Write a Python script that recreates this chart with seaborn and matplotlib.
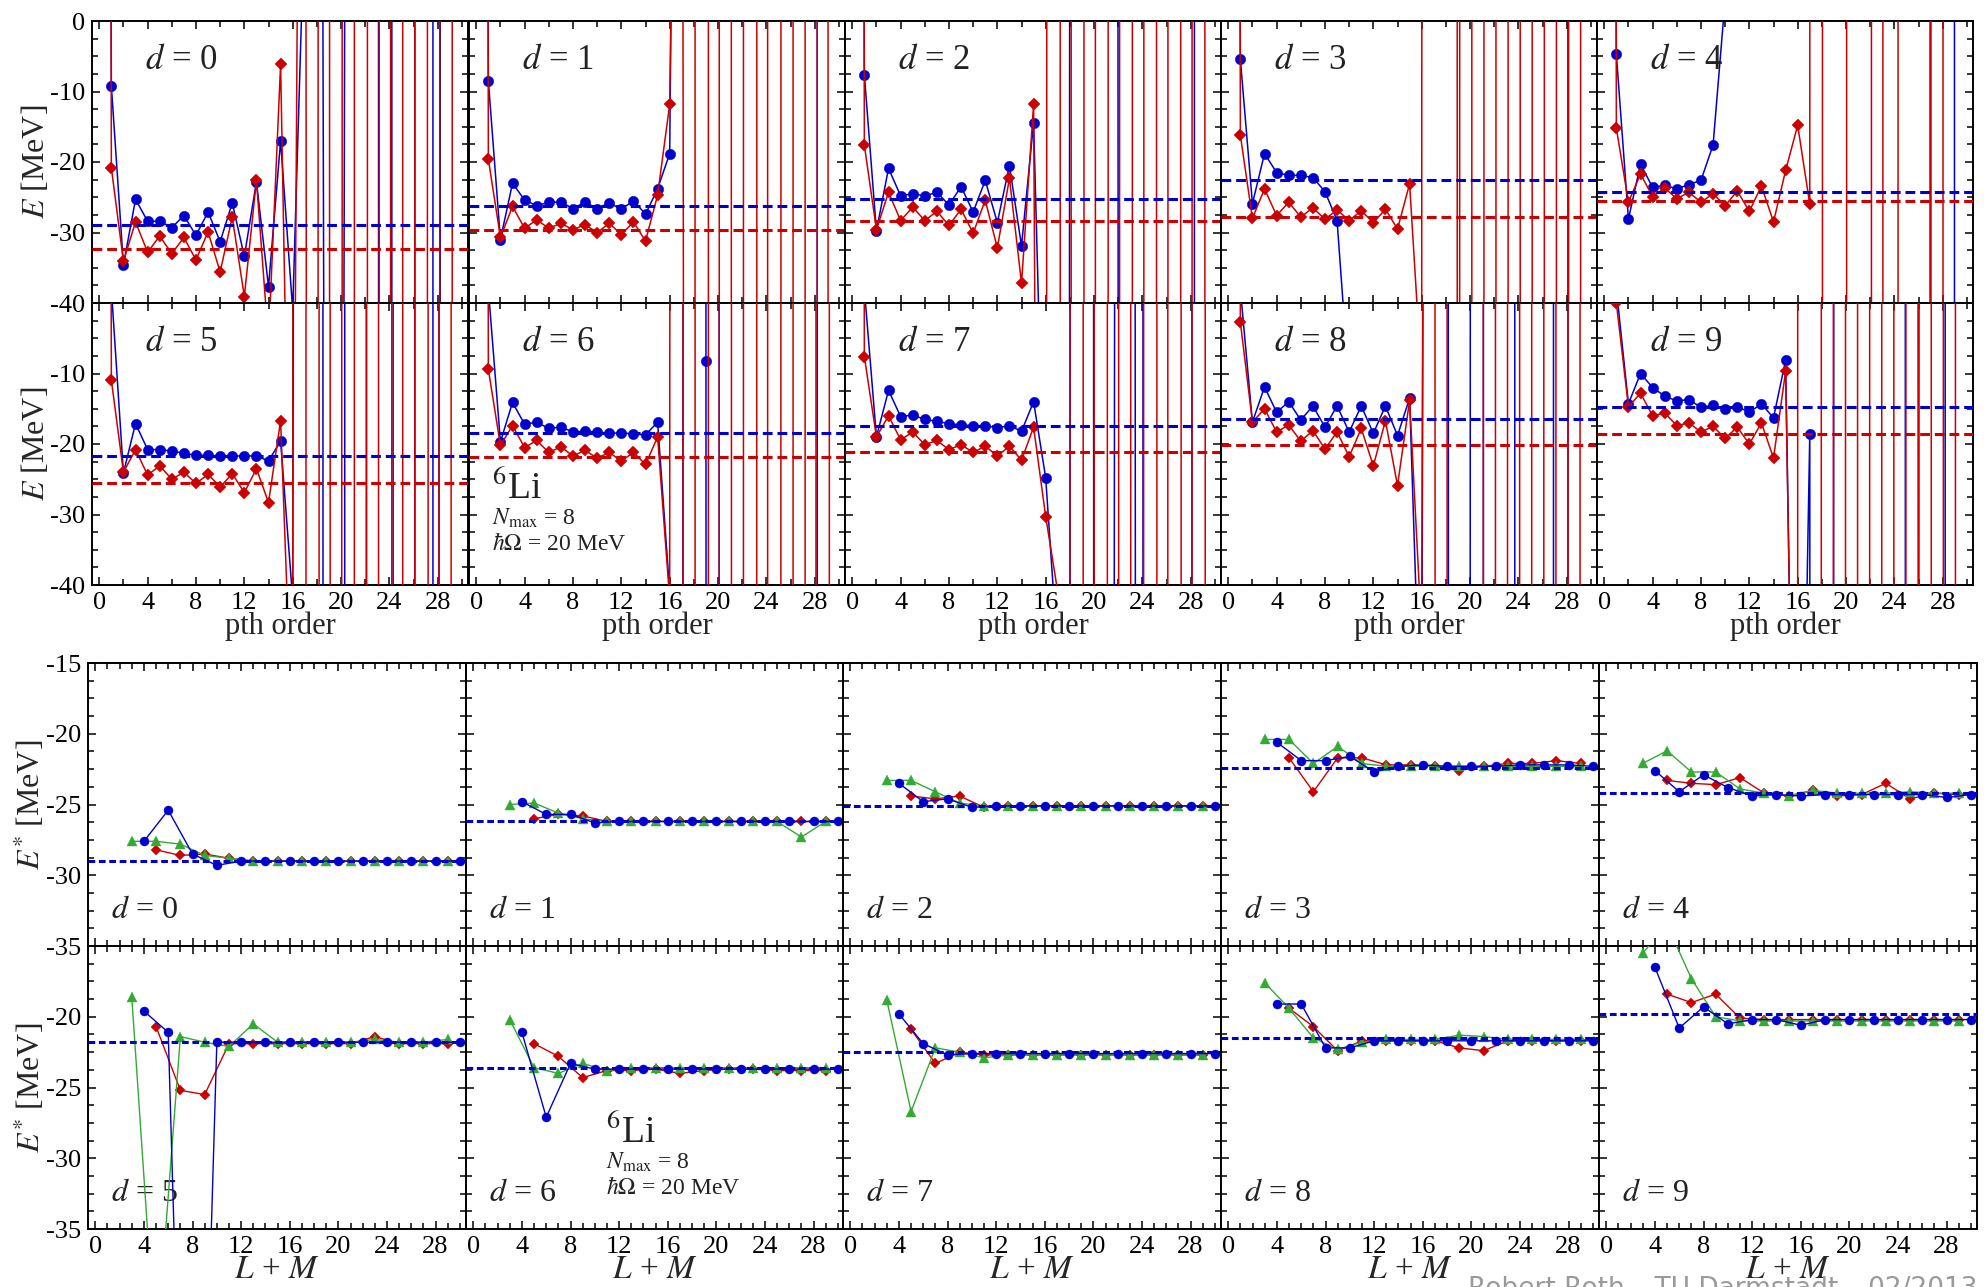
import numpy as np
import matplotlib
matplotlib.use("Agg")
import matplotlib.pyplot as plt
import seaborn as sns
from matplotlib.ticker import MultipleLocator

sns.set_theme(style="ticks")
plt.rcParams.update({
    "font.family": ["Liberation Serif", "DejaVu Serif"],
    "mathtext.fontset": "stix",
    "axes.unicode_minus": False,
    "path.simplify": False,
    "axes.edgecolor": "black",
    "axes.linewidth": 1.4,
})

BLUE = "#0000cc"
RED = "#cc0000"
GREEN = "#33aa33"

# ---------------- top block: energy vs. perturbation order -----------------
pth_order = list(range(31))  # 0 .. 30

pth_blue_d0 = [1e3, -9.2, -34.6, -25.3, -28.4, -28.4, -29.3, -27.6, -30.4, -27.1, -31.3, -25.8, -33.4, -22.8, -37.7, -17.0,
               -41, 16, 300, -300, -200, 470, 3000, 2000, -1.8e4, 7.2e4, 5e5, -4.5e6, 3e6, -1.2e7, -5e7]
pth_red_d0 = [1e3, -20.8, -34.1, -28.5, -32.8, -30.5, -33.0, -30.7, -33.9, -29.9, -35.6, -27.8, -39.1, -22.6, -45.5, -6.1,
              -100, 170, -1500, 1.3e4, -2.5e5, 2.5e6, -2.2e7, 1e8, -5.5e8, 5e9, -4.5e10, 4e11, -2.4e12, 1.2e13, -5e13]

pth_blue_d1 = [1e3, -8.5, -31.0, -23.0, -25.4, -26.2, -25.7, -25.7, -26.6, -25.7, -26.6, -25.8, -26.7, -25.5, -27.4, -23.8, -18.8,
               170, 1500, 9000, 4e4, 2e5, 8e5, 3e6, 1e7, 4e7, 1e8, 3e8, 1e9, -4e9, -1e10]
pth_red_d1 = [1e3, -19.6, -30.7, -26.3, -29.4, -28.2, -29.4, -28.7, -29.6, -28.9, -30.0, -28.7, -30.3, -28.5, -31.2, -24.7, -11.8,
              110, -1000, 9000, -3.6e4, 3.2e5, -2.9e6, 2.6e7, -1e8, 9e8, -3.6e9, 1.4e10, -5.6e10, 2.2e11, -2e12]

pth_blue_d2 = [1e3, -7.6, -29.8, -20.9, -24.8, -24.5, -24.8, -24.3, -26.1, -23.5, -27.1, -22.6, -28.6, -20.5, -31.9, -14.4,
               -78, -3000, 60, 800, 1500, 3000, -60, -900, -5000, -2e4, -5e4, -1e5, -3e5, 7e5, 2e6]
pth_red_d2 = [1e3, -17.6, -29.6, -24.3, -28.3, -26.4, -28.3, -27.0, -29.0, -26.7, -30.1, -25.4, -32.2, -22.3, -37.2, -11.8,
              -300, 3000, -1.2e4, 1e5, -5e5, 4e6, -2e7, 1.6e8, -8e8, 6e9, -3e10, 2.4e11, -1.2e12, 1e13, -5e13]

pth_blue_d3 = [1e3, -5.4, -25.9, -18.8, -21.5, -21.9, -21.9, -22.2, -24.2, -28.3,
               -52, -300, -1000, -3000, -8000, -2e4, -5e4, -1e5, -2e5, -4e5, -8e5, -1.5e6, -3e6, -6e6, -1e7, -2e7,
               -4e7, -8e7, -1.5e8, 1.4e9, 5e9]
pth_red_d3 = [1e3, -16.2, -28.0, -23.8, -27.6, -25.7, -27.8, -26.5, -28.1, -26.8, -28.3, -26.9, -28.6, -26.7, -29.5, -23.1,
              -51, 5000, 3e4, -2e3, 1.2e4, -7e4, 4e5, -2.4e6, 1.4e7, -8e7, 5e8, -3e9, 1.8e10, -1e11, 6e11]

pth_blue_d4 = [1e3, -4.7, -28.1, -20.3, -23.6, -23.3, -23.8, -23.2, -22.6, -17.6, 3.1,
               50, 200, 800, 3000, 1e4, 3e4, 1e5, 3e5, 1e6, 3e6, 1e7, 3e7, 1e8, 3e8, 1e9, 3e9, -1e8, -3e9, 1e8, 1e9]
pth_red_d4 = [1e3, -15.2, -25.7, -21.7, -24.9, -23.7, -25.2, -24.3, -25.7, -24.5, -26.2, -24.1, -27.0, -23.4, -28.5, -21.2,
              -14.8, -26.0, 5000, -1e5, -2e5, 4e6, 5e6, -4.5e7, 9e8, -2.1e9, -3e9, 1e8, -5e9, 2.5e11, 5e11]

pth_blue_d5 = [1e3, 2, -24.1, -17.1, -20.8, -20.8, -21.0, -21.3, -21.6, -21.6, -21.7, -21.7, -21.7, -21.7, -22.4, -19.6, -42,
               800, 3000, -3000, -1e4, 2.3e4, 5e4, -4.5e5, -1e6, 2.3e6, 5e6, -4.5e7, 3e7, -2.7e8, -1e9]
pth_red_d5 = [1e3, -10.9, -24.0, -20.8, -24.4, -23.1, -25.0, -24.0, -25.6, -24.3, -26.1, -24.2, -26.9, -23.5, -28.3, -16.7, -63,
              5000, -4.5e4, 2e5, -1.8e6, 3e7, -2.7e8, 2.4e9, -2.2e10, 9e10, -8e11, 7e12, -2.8e13, 2.5e14, -2.2e15]

pth_blue_d6 = [1e3, 2, -19.7, -14.1, -17.2, -16.9, -17.8, -17.6, -18.3, -18.2, -18.3, -18.5, -18.4, -18.6, -18.7, -16.9,
               -41, -500, 4500, -8.2, -5000, 5e4, 1e5, 2e5, 4e5, 8e5, 1.5e6, 3e6, 5e6, -2e7, -5e7]
pth_red_d6 = [1e3, -9.4, -20.2, -17.4, -20.5, -19.5, -21.2, -20.4, -21.7, -20.9, -22.0, -21.2, -22.4, -21.2, -22.9, -19.0,
              -42, 4000, -3.6e4, 3.2e5, -1.3e6, 1.2e7, -1e8, 9e8, -3.6e9, 3.2e10, -1.3e11, 5e11, -2e12, 1.8e13, -7e13]

pth_blue_d7 = [1e3, 2, -19.0, -12.4, -16.1, -15.9, -16.5, -16.8, -17.1, -17.3, -17.4, -17.4, -17.7, -17.4, -18.2, -14.0, -24.8,
               -50, -100, 5000, -200, -1000, 430, 1000, -1500, 3e4, 5e4, 1e5, 3e5, -2.7e6, -5e6]
pth_red_d7 = [1e3, -7.6, -19.0, -16.0, -19.4, -18.3, -20.1, -19.5, -20.8, -20.1, -21.2, -20.3, -21.7, -20.3, -22.3, -17.6, -30.3,
              -41, -50, 5000, -4.5e4, 4e6, -3.6e7, 1e9, -3e10, 2.7e11, -1.1e12, 1e13, -4e13, 3.6e14, -1.5e15]

pth_blue_d8 = [1e3, 2, -16.9, -11.9, -15.5, -14.0, -16.6, -14.6, -17.6, -14.6, -18.3, -14.6, -18.5, -14.6, -18.8, -13.5,
               -66, 600, 1000, -4000, -100, 5000, -4.5e4, -1e5, 4.3e4, 1e5, 3e6, -3.3e5, -3e5, 2.7e6, 5e6]
pth_red_d8 = [1e3, -2.7, -16.9, -15.0, -18.3, -17.3, -19.6, -18.1, -20.7, -18.3, -21.8, -17.8, -23.1, -16.7, -25.9, -13.8,
              -47, 500, -4500, 4e4, 2e5, 5e5, -4.5e6, 4e7, -3.6e8, 3.2e9, -2.9e10, 2.6e11, -2.3e12, 2e13, -1.8e14]

pth_blue_d9 = [1e3, 2, -14.3, -10.0, -12.0, -13.2, -13.9, -13.7, -14.8, -14.5, -15.1, -14.7, -15.5, -14.3, -16.3, -8.1,
               -114, -18.6, -5000, 100, 500, 1500, 3000, 5000, 9000, -1000, -5000, -1e4, -2e4, 8e4, 2e5]
pth_red_d9 = [1e3, 0.0, -14.7, -12.8, -16.0, -15.6, -17.4, -17.0, -18.3, -17.5, -19.2, -17.6, -20.0, -17.0, -22.0, -9.7,
              -110, 1e14, -5e12, 2.5e11, -1.2e10, 6e8, -3e7, 1.5e6, -7.5e4, 4000, -200, 5000, -1e5, 2e6, -4e7]

conv_blue_pth = [-29.0, -26.2, -25.2, -22.5, -24.3, -21.7, -18.5, -17.5, -16.5, -14.8]
conv_red_pth = [-32.4, -29.6, -28.3, -27.8, -25.6, -25.5, -21.9, -21.2, -20.2, -18.6]

# ---------------- bottom block: E* vs. L+M -----------------
lm_blue_x = [4, 6, 8, 10, 12, 14, 16, 18, 20, 22, 24, 26, 28, 30]
lm_red_x = [5, 7, 9, 11, 13, 15, 17, 19, 21, 23, 25, 27, 29]
lm_green_x = [3, 5, 7, 9, 11, 13, 15, 17, 19, 21, 23, 25, 27, 29]

lm_blue_d0 = [-27.6, -25.4, -28.5, -29.3, -29.0, -29.0, -29.0, -29.0, -29.0, -29.0, -29.0, -29.0, -29.0, -29.0]
lm_red_d0 = [-28.2, -28.6, -28.5, -28.8, -29.0, -29.0, -29.0, -29.0, -29.0, -29.0, -29.0, -29.0, -29.0]
lm_green_d0 = [-27.6, -27.6, -27.8, -28.6, -28.8, -29.0, -29.0, -29.0, -29.0, -29.0, -29.0, -29.0, -29.0, -29.0]

lm_blue_d1 = [-24.8, -25.7, -25.7, -26.3, -26.2, -26.2, -26.2, -26.2, -26.2, -26.2, -26.2, -26.2, -26.2, -26.2]
lm_red_d1 = [-26.0, -25.7, -25.8, -26.2, -26.2, -26.2, -26.2, -26.2, -26.2, -26.2, -26.2, -26.2, -26.2]
lm_green_d1 = [-25.0, -24.9, -25.6, -26.0, -26.2, -26.2, -26.2, -26.2, -26.2, -26.2, -26.2, -26.2, -27.3, -26.2]

lm_blue_d2 = [-23.5, -24.8, -24.6, -25.2, -25.1, -25.1, -25.1, -25.1, -25.1, -25.1, -25.1, -25.1, -25.1, -25.1]
lm_red_d2 = [-24.4, -24.6, -24.4, -25.2, -25.1, -25.1, -25.1, -25.1, -25.1, -25.1, -25.1, -25.1, -25.1]
lm_green_d2 = [-23.3, -23.3, -24.1, -24.9, -25.1, -25.1, -25.1, -25.1, -25.1, -25.1, -25.1, -25.1, -25.1, -25.1]

lm_blue_d3 = [-20.6, -21.9, -21.9, -21.6, -22.7, -22.3, -22.2, -22.3, -22.3, -22.3, -22.2, -22.2, -22.2, -22.3]
lm_red_d3 = [-21.7, -24.1, -21.7, -21.7, -22.2, -22.2, -22.3, -22.6, -22.3, -22.1, -22.1, -21.9, -22.1]
lm_green_d3 = [-20.4, -20.4, -22.1, -20.9, -22.1, -22.3, -22.3, -22.3, -22.3, -22.3, -22.3, -22.3, -22.3, -22.3]

lm_blue_d4 = [-22.6, -24.1, -22.9, -23.8, -24.4, -24.3, -24.4, -24.3, -24.3, -24.3, -24.3, -24.3, -24.5, -24.3]
lm_red_d4 = [-23.3, -23.5, -23.6, -23.1, -24.2, -24.4, -24.0, -24.4, -24.3, -23.5, -24.6, -24.2, -24.3]
lm_green_d4 = [-22.1, -21.2, -22.7, -22.7, -23.9, -24.2, -24.4, -24.0, -24.2, -24.2, -24.2, -24.1, -24.2, -24.2]

lm_blue_d5 = [-19.6, -21.1, -80.0, -21.8, -21.8, -21.8, -21.8, -21.8, -21.8, -21.8, -21.8, -21.8, -21.8, -21.8]
lm_red_d5 = [-20.7, -25.2, -25.5, -21.9, -21.9, -21.9, -21.9, -21.9, -21.9, -21.4, -21.9, -21.9, -21.9]
lm_green_d5 = [-18.6, -44.0, -21.4, -21.8, -22.1, -20.5, -21.8, -21.8, -21.8, -21.8, -21.6, -21.8, -21.8, -21.6]

lm_blue_d6 = [-21.1, -27.1, -23.3, -23.7, -23.7, -23.7, -23.7, -23.7, -23.7, -23.7, -23.7, -23.7, -23.7, -23.7]
lm_red_d6 = [-21.9, -22.8, -24.3, -23.8, -23.8, -23.7, -24.0, -23.8, -23.7, -23.7, -23.8, -23.8, -23.8]
lm_green_d6 = [-20.2, -23.6, -24.0, -23.3, -23.8, -23.6, -23.6, -23.6, -23.6, -23.6, -23.6, -23.6, -23.6, -23.6]

lm_blue_d7 = [-19.8, -21.9, -22.7, -22.6, -22.6, -22.6, -22.6, -22.6, -22.6, -22.6, -22.6, -22.6, -22.6, -22.6]
lm_red_d7 = [-20.9, -23.3, -22.5, -22.7, -22.7, -22.7, -22.7, -22.7, -22.7, -22.7, -22.7, -22.7, -22.7]
lm_green_d7 = [-18.8, -26.7, -22.2, -22.5, -22.9, -22.7, -22.7, -22.7, -22.7, -22.7, -22.7, -22.7, -22.7, -22.7]

lm_blue_d8 = [-19.1, -19.1, -22.2, -22.2, -21.7, -21.7, -21.7, -21.7, -21.7, -21.7, -21.7, -21.7, -21.7, -21.7]
lm_red_d8 = [-19.4, -20.7, -22.4, -21.7, -21.7, -21.7, -21.7, -22.2, -22.4, -21.7, -21.7, -21.7, -21.7]
lm_green_d8 = [-17.6, -19.4, -21.5, -22.3, -21.8, -21.6, -21.6, -21.6, -21.3, -21.4, -21.6, -21.6, -21.6, -21.6]

lm_blue_d9 = [-16.5, -20.8, -19.3, -20.5, -20.2, -20.2, -20.6, -20.2, -20.2, -20.2, -20.2, -20.2, -20.2, -20.2]
lm_red_d9 = [-18.4, -19.0, -18.4, -20.1, -20.2, -20.2, -20.2, -20.2, -20.2, -20.2, -20.2, -20.2, -20.2]
lm_green_d9 = [-15.5, -13.5, -17.3, -20.0, -20.3, -20.3, -20.3, -20.3, -20.3, -20.3, -20.3, -20.3, -20.3, -20.3]

conv_lm = [-28.96, -26.2, -25.1, -22.4, -24.2, -21.8, -23.6, -22.5, -21.5, -19.8]

x_tick_vals = [0, 4, 8, 12, 16, 20, 24, 28]

pth_blue = [pth_blue_d0, pth_blue_d1, pth_blue_d2, pth_blue_d3, pth_blue_d4,
            pth_blue_d5, pth_blue_d6, pth_blue_d7, pth_blue_d8, pth_blue_d9]
pth_red = [pth_red_d0, pth_red_d1, pth_red_d2, pth_red_d3, pth_red_d4,
           pth_red_d5, pth_red_d6, pth_red_d7, pth_red_d8, pth_red_d9]
lm_blue = [lm_blue_d0, lm_blue_d1, lm_blue_d2, lm_blue_d3, lm_blue_d4,
           lm_blue_d5, lm_blue_d6, lm_blue_d7, lm_blue_d8, lm_blue_d9]
lm_red = [lm_red_d0, lm_red_d1, lm_red_d2, lm_red_d3, lm_red_d4,
          lm_red_d5, lm_red_d6, lm_red_d7, lm_red_d8, lm_red_d9]
lm_green = [lm_green_d0, lm_green_d1, lm_green_d2, lm_green_d3, lm_green_d4,
            lm_green_d5, lm_green_d6, lm_green_d7, lm_green_d8, lm_green_d9]

for s in pth_blue + pth_red:
    assert len(s) == len(pth_order), len(s)

# ---------------- layout -----------------
W, H = 1984, 1287
fig = plt.figure(figsize=(W / 100, H / 100), dpi=100)


def axes_at(left, top, w, h):
    return fig.add_axes([left / W, 1 - (top + h) / H, w / W, h / H])


top_lefts = [92, 469, 845, 1221, 1597]
top_w = 376
top_rows = [(21, 282), (303, 282)]
bot_lefts = [88, 466, 843, 1221, 1599]
bot_w = 378
bot_rows = [(663, 283), (946, 283)]


def style(ax, show_left, show_bottom):
    ax.set_facecolor("white")
    for sp in ax.spines.values():
        sp.set_color("black")
        sp.set_linewidth(1.4)
    ax.tick_params(which="both", direction="in", top=True, right=True,
                   left=True, bottom=True, colors="black", width=1.1,
                   labelsize=19, pad=5,
                   labelleft=show_left, labelbottom=show_bottom)
    ax.tick_params(which="major", length=6)
    ax.tick_params(which="minor", length=4)
    ax.set_xlabel("")
    ax.set_ylabel("")
    ax.grid(False)


line_kw = dict(legend=False, estimator=None, sort=False)

for d in range(10):
    r, c = divmod(d, 5)
    ax = axes_at(top_lefts[c], top_rows[r][0], top_w, top_rows[r][1])
    sns.lineplot(x=pth_order, y=pth_blue[d], ax=ax, color=BLUE, lw=1.1,
                 marker="o", markersize=7.5, markeredgecolor=BLUE,
                 markeredgewidth=0.3, zorder=3, **line_kw)
    sns.lineplot(x=pth_order, y=pth_red[d], ax=ax, color=RED, lw=1.1,
                 marker="D", markersize=6.5, markeredgecolor=RED,
                 markeredgewidth=0.3, zorder=4, **line_kw)
    ax.axhline(conv_blue_pth[d], color=BLUE, lw=2.2, dashes=(3.2, 1.6), zorder=5)
    ax.axhline(conv_red_pth[d], color=RED, lw=2.2, dashes=(3.2, 1.6), zorder=5)
    ax.set_xlim(-0.6, 30.5)
    ax.set_ylim(-40, 0)
    ax.xaxis.set_major_locator(MultipleLocator(4))
    ax.xaxis.set_minor_locator(MultipleLocator(2))
    ax.set_yticks([-40, -30, -20, -10, 0])
    ax.yaxis.set_minor_locator(MultipleLocator(2.5))
    if r == 0:
        ax.set_yticklabels(["-40", "-30", "-20", "-10", "0"])
    else:
        ax.set_yticklabels(["-40", "-30", "-20", "-10", ""])
    ax.set_xticks(x_tick_vals)
    ax.set_xticklabels([str(v) for v in x_tick_vals])
    style(ax, c == 0, r == 1)
    ax.text(0.14, 0.86, r"$d$ = %d" % d, transform=ax.transAxes,
            fontsize=25, va="center", ha="left", color="#222222")
    if d == 6:
        ax.text(0.06, 0.34, r"$^{6}$Li", transform=ax.transAxes, fontsize=27,
                va="center", ha="left", color="#222222")
        ax.text(0.06, 0.235, r"$N_{\mathrm{max}}$ = 8", transform=ax.transAxes,
                fontsize=17, va="center", ha="left", color="#222222")
        ax.text(0.06, 0.145, r"$\hbar\Omega$ = 20 MeV", transform=ax.transAxes,
                fontsize=17, va="center", ha="left", color="#222222")
    if r == 1:
        ax.text(0.5, -0.145, "pth order", transform=ax.transAxes, fontsize=22,
                ha="center", va="center")

for d in range(10):
    r, c = divmod(d, 5)
    ax = axes_at(bot_lefts[c], bot_rows[r][0], bot_w, bot_rows[r][1])
    sns.lineplot(x=lm_red_x, y=lm_red[d], ax=ax, color=RED, lw=1.0,
                 marker="D", markersize=5.5, markeredgecolor=RED,
                 markeredgewidth=0.3, zorder=3, **line_kw)
    sns.lineplot(x=lm_green_x, y=lm_green[d], ax=ax, color=GREEN, lw=1.0,
                 marker="^", markersize=7, markeredgecolor=GREEN,
                 markeredgewidth=0.3, zorder=4, **line_kw)
    sns.lineplot(x=lm_blue_x, y=lm_blue[d], ax=ax, color=BLUE, lw=1.0,
                 marker="o", markersize=6.5, markeredgecolor=BLUE,
                 markeredgewidth=0.3, zorder=5, **line_kw)
    ax.axhline(conv_lm[d], color=BLUE, lw=2.2, dashes=(2.2, 1.2), zorder=6)
    ax.set_xlim(-0.6, 30.5)
    ax.set_ylim(-35, -15)
    ax.set_xticks(x_tick_vals)
    ax.set_xticklabels([str(v) for v in x_tick_vals])
    ax.xaxis.set_minor_locator(MultipleLocator(1))
    ax.set_yticks([-35, -30, -25, -20, -15])
    ax.yaxis.set_minor_locator(MultipleLocator(1.25))
    if r == 0:
        ax.set_yticklabels(["-35", "-30", "-25", "-20", "-15"])
    else:
        ax.set_yticklabels(["-35", "-30", "-25", "-20", ""])
    style(ax, c == 0, r == 1)
    ax.text(0.06, 0.125, r"$d$ = %d" % d, transform=ax.transAxes,
            fontsize=23, va="center", ha="left", color="#222222")
    if d == 6:
        ax.text(0.37, 0.34, r"$^{6}$Li", transform=ax.transAxes, fontsize=27,
                va="center", ha="left", color="#222222")
        ax.text(0.37, 0.235, r"$N_{\mathrm{max}}$ = 8", transform=ax.transAxes,
                fontsize=17, va="center", ha="left", color="#222222")
        ax.text(0.37, 0.145, r"$\hbar\Omega$ = 20 MeV", transform=ax.transAxes,
                fontsize=17, va="center", ha="left", color="#222222")
    if r == 1:
        ax.text(0.5, -0.145, r"$L$ + $M$", transform=ax.transAxes, fontsize=24,
                ha="center", va="center")

# y-axis labels
for (top, h) in top_rows:
    fig.text(36 / W, 1 - (top + h / 2) / H, r"$E$ [MeV]", rotation=90,
             fontsize=23, ha="center", va="center")
for (top, h) in bot_rows:
    fig.text(30 / W, 1 - (top + h / 2) / H, r"$E^{*}$ [MeV]", rotation=90,
             fontsize=23, ha="center", va="center")

fig.text(1468 / W, 1 - 1276 / H, "Robert Roth \u2013 TU Darmstadt \u2013 02/2013",
         color="#9a9a9a", fontsize=19, family="DejaVu Sans", ha="left", va="top",
         zorder=0)

fig.savefig("out.png", dpi=100, facecolor="white")
